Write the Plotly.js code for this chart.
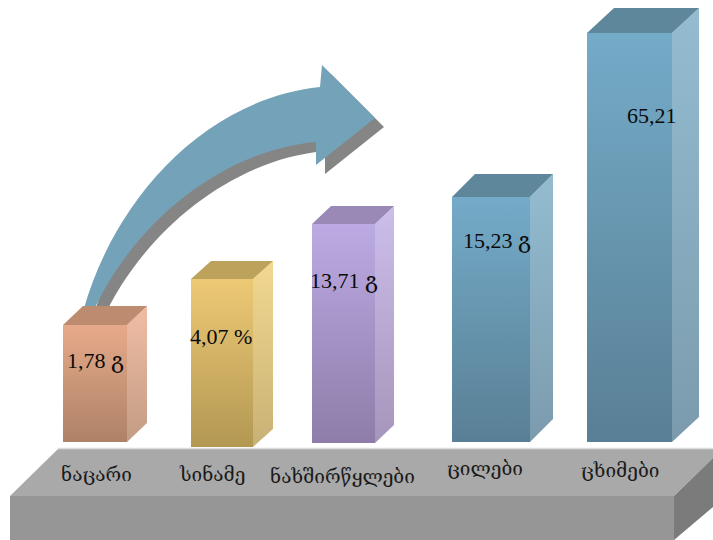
<!DOCTYPE html>
<html>
<head>
<meta charset="utf-8">
<script src="https://cdn.plot.ly/plotly-3.0.1.min.js"></script>
<style>html,body{margin:0;padding:0;background:#fff}</style>
</head>
<body>
<div id="chart" style="width:713px;height:540px"></div>
<script>
// Food composition values
const categories = ['ნაცარი', 'სინამე', 'ნახშირწყლები', 'ცილები', 'ცხიმები'];
const values = [1.78, 4.07, 13.71, 15.23, 65.21];
const units = ['გ', '%', 'გ', 'გ', ''];

// Each column has its own value scale: the box says where 0 and the value land on the page
const boxes = [
  {left: 63,  right: 127, top: 325, base: 442, dx: 20, dy: 19},
  {left: 191, right: 253, top: 279, base: 447, dx: 20, dy: 18},
  {left: 312, right: 375, top: 224, base: 443, dx: 19, dy: 18},
  {left: 452, right: 530, top: 197, base: 442, dx: 23, dy: 23},
  {left: 587, right: 672, top: 33,  base: 442, dx: 27, dy: 25}
];
const faces = [
  {front: ['#e6aa8a', '#ae8267'], side: ['#f0bda4', '#c39c84'], cap: '#bd8b6f'},
  {front: ['#edc975', '#b39853'], side: ['#f2d890', '#c8b175'], cap: '#bda25c'},
  {front: ['#bcaae4', '#8e7ca9'], side: ['#ccbeeb', '#a695bb'], cap: '#9a89b6'},
  {front: ['#74abc8', '#597f95'], side: ['#94bcd1', '#7b9bad'], cap: '#5f879c'},
  {front: ['#74abc8', '#597f95'], side: ['#94bcd1', '#7b9bad'], cap: '#5f879c'}
];
const categoryLabelPos = [[96, 474], [212, 474], [342, 476], [485, 468], [620, 470]];
const valueLabelPos = [[95, 360], [221, 336], [344, 280], [497, 240], [652, 115]];

const W = 713, H = 540;
const traces = [];
const layout = {
  width: W, height: H,
  margin: {l: 0, r: 0, t: 0, b: 0},
  paper_bgcolor: '#fff', plot_bgcolor: 'rgba(0,0,0,0)',
  showlegend: false,
  xaxis: {range: [0, W], visible: false, fixedrange: true},
  yaxis: {range: [H, 0], visible: false, fixedrange: true},
  shapes: [],
  annotations: []
};

function poly(xs, ys, yaxis, color, gradient) {
  const t = {
    type: 'scatter', mode: 'lines', x: xs, y: ys, xaxis: 'x', yaxis: yaxis,
    fill: 'toself', line: {width: 0, color: 'rgba(0,0,0,0)'}, hoverinfo: 'skip'
  };
  if (gradient) {
    t.fillgradient = {type: 'vertical', colorscale: [[0, gradient[1]], [1, gradient[0]]]};
  } else {
    t.fillcolor = color;
  }
  traces.push(t);
}

// Platform the columns stand on
poly([10, 58, W, W, 674], [496, 449, 449, 458, 496], 'y', '#a9a9a9');
poly([10, 674, 674, 10], [496, 496, H, H], 'y', '#969696');
poly([674, W, W, 674], [496, 458, 507, H], 'y', '#7b7b7b');
traces.push({type: 'scatter', mode: 'lines', x: [58, W], y: [448.5, 448.5], xaxis: 'x', yaxis: 'y',
  line: {color: '#dedede', width: 1.5}, hoverinfo: 'skip'});

// Curved arrow with its offset shadow
function arrowPath(s) {
  const p = (x, y) => (x + s) + ' ' + (y + s);
  return 'M' + p(83, 312) + ' C' + p(112, 205) + ' ' + p(200, 100) + ' ' + p(320, 87) +
    ' L' + p(322, 65) + ' L' + p(375, 118) + ' L' + p(316, 165) + ' L' + p(316, 142) +
    ' C' + p(225, 150) + ' ' + p(135, 220) + ' ' + p(93, 312) + ' Z';
}
layout.shapes.push({type: 'path', xref: 'x', yref: 'y', layer: 'below', path: arrowPath(9),
  fillcolor: '#858585', line: {width: 0}});
layout.shapes.push({type: 'path', xref: 'x', yref: 'y', layer: 'below', path: arrowPath(0),
  fillcolor: '#74a2b8', line: {width: 0}});

// Columns, one overlaid value axis each
values.forEach((v, i) => {
  const b = boxes[i], f = faces[i];
  const perPx = v / (b.base - b.top);
  const id = 'y' + (i + 2);
  layout['yaxis' + (i + 2)] = {
    overlaying: 'y', visible: false, fixedrange: true,
    range: [-(H - b.base) * perPx, v + b.top * perPx]
  };
  const up = b.dy * perPx;
  poly([b.left, b.right, b.right, b.left], [0, 0, v, v], id, null, f.front);
  poly([b.right, b.right + b.dx, b.right + b.dx, b.right], [0, up, v + up, v], id, null, f.side);
  poly([b.left, b.right, b.right + b.dx, b.left + b.dx], [v, v, v + up, v + up], id, f.cap);
});

const serif = '"Liberation Serif", "DejaVu Serif", serif';
categories.forEach((c, i) => {
  layout.annotations.push({
    text: c, xref: 'x', yref: 'y', x: categoryLabelPos[i][0], y: categoryLabelPos[i][1],
    showarrow: false, xanchor: 'center', yanchor: 'middle',
    font: {family: serif, size: 19, color: '#1a1a1a'}
  });
  const num = values[i].toFixed(2).replace('.', ',') + (units[i] ? ' ' + units[i] : '');
  layout.annotations.push({
    text: num, xref: 'x', yref: 'y', x: valueLabelPos[i][0], y: valueLabelPos[i][1],
    showarrow: false, xanchor: 'center', yanchor: 'middle',
    font: {family: serif, size: 22, color: '#0a0a0a'}
  });
});

Plotly.newPlot('chart', traces, layout, {displayModeBar: false, staticPlot: true});
</script>
</body>
</html>
